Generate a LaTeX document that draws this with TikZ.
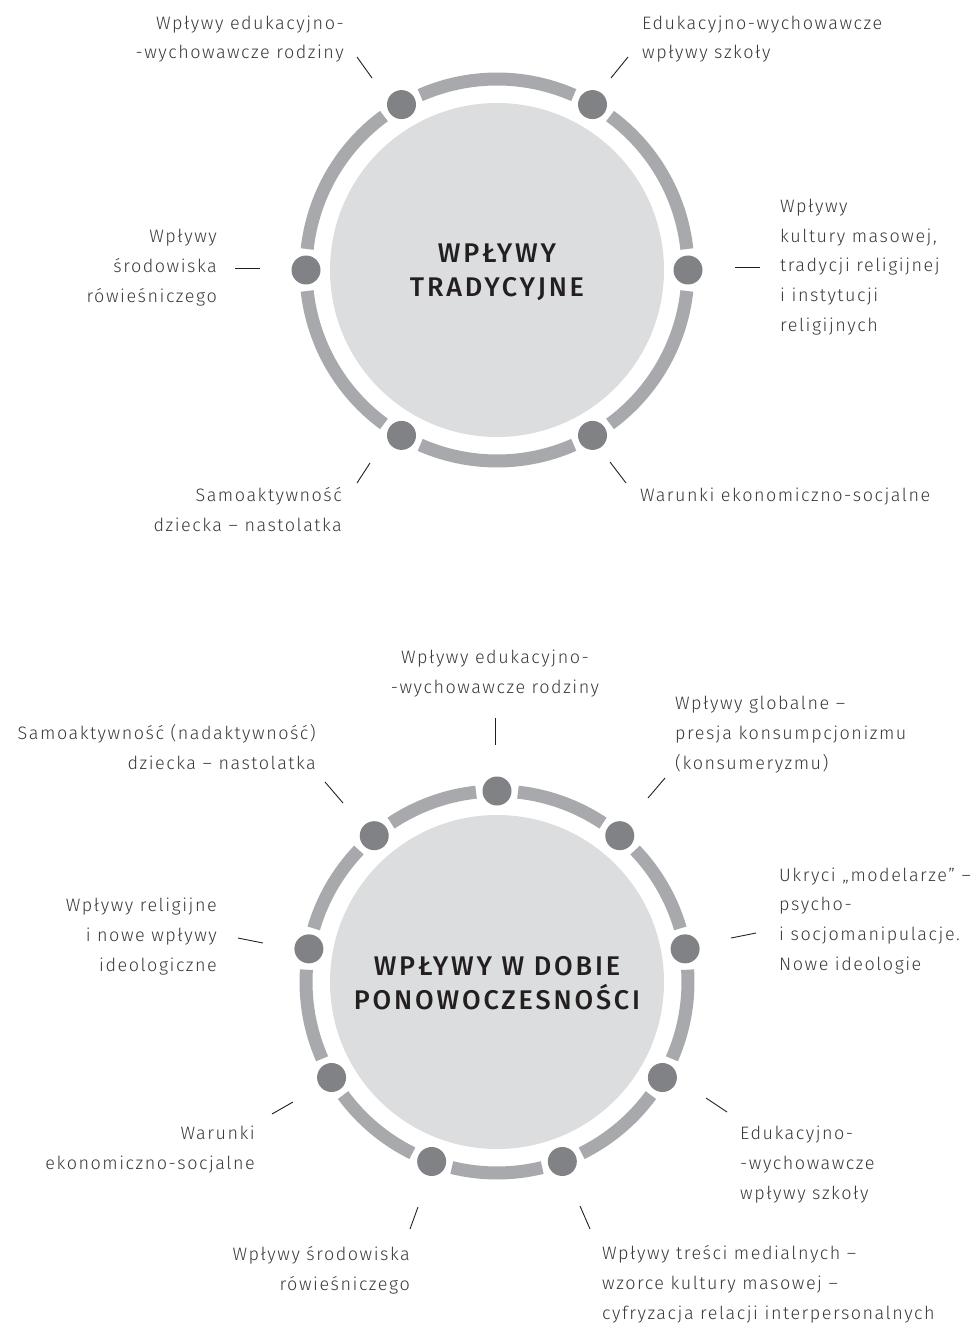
\documentclass[tikz,border=0pt]{standalone}
\usepackage{fontspec}
\usetikzlibrary{calc}
\newfontfamily\labfont{Fira Sans Light}[LetterSpace=8.5]
\newfontfamily\headfont{Fira Sans Medium}[LetterSpace=10.5]
\definecolor{ringc}{HTML}{A7A9AC}
\definecolor{dotc}{HTML}{808285}
\definecolor{discc}{HTML}{DCDDDE}
\definecolor{txtc}{HTML}{3A3A3C}
\definecolor{headc}{HTML}{231F20}
\tikzset{
  disc/.style={circle, fill=discc, minimum size=334pt, inner sep=0pt},
  headtext/.style={inner sep=0pt, font=\headfont\fontsize{27}{34.5}\selectfont, text=headc, align=center},
  ringarc/.style={draw=ringc, line width=13pt, line cap=butt},
  dotnode/.style={circle, fill=dotc, inner sep=0pt, minimum size=29pt},
  lab/.style={inner sep=0pt, font=\labfont\fontsize{18}{29.6}\selectfont, text=txtc},
  labr/.style={lab, align=right, anchor=base east},
  labl/.style={lab, align=left, anchor=base west},
  labc/.style={lab, align=center, anchor=base},
  tick/.style={draw=headc, line width=0.9pt}
}
\begin{document}
\begin{tikzpicture}[x=1pt,y=-1pt]
\useasboundingbox (0,0) rectangle (975,1324);
% ---------- top diagram ----------
\node[disc] (T) at (497,270) {};
\node[headtext] (Tt) at (497,272.5) {WPŁYWY\\TRADYCYJNE};
\foreach \b in {0,60,...,300}{
  \draw[ringarc] ($(T.center)+({\b+6.3}:191)$) arc[start angle={\b+6.3}, end angle={\b+60-6.3}, radius=191];
}
\foreach \b/\n in {0/tR,60/tBR,120/tBL,180/tL,240/tTL,300/tTR}{
  \node[dotnode] (\n) at ($(T.center)+(\b:191)$) {};
}
% labels: anchor = baseline of the last line
\node[labr] (lTL) at (344,59) {Wpływy edukacyjno-\\-wychowawcze rodziny};
\node[labl] (lTR) at (642,59) {Edukacyjno-wychowawcze\\wpływy szkoły};
\node[labl] (lR) at (780,331) {Wpływy\\kultury masowej,\\tradycji religijnej\\i instytucji\\religijnych};
\node[labr] (lL) at (217,302) {Wpływy\\środowiska\\rówieśniczego};
\node[labr] (lBL) at (342,531) {Samoaktywność\\dziecka – nastolatka};
\node[labl] (lBR) at (640,501.5) {Warunki ekonomiczno-socjalne};
\coordinate (a1) at (357,57); \coordinate (a2) at (372,78);
\coordinate (b1) at (628,57); \coordinate (b2) at (611,78);
\coordinate (c1) at (760,267); \coordinate (c2) at (735,267);
\coordinate (d1) at (235,268); \coordinate (d2) at (260,268);
\coordinate (e1) at (357,483); \coordinate (e2) at (370,463);
\coordinate (f1) at (626,483); \coordinate (f2) at (610,462);
\draw[tick] (a1) -- (a2);
\draw[tick] (b1) -- (b2);
\draw[tick] (c1) -- (c2);
\draw[tick] (d1) -- (d2);
\draw[tick] (e1) -- (e2);
\draw[tick] (f1) -- (f2);
% ---------- bottom diagram ----------
\node[disc] (B) at (497,982) {};
\node[headtext] (Bt) at (497,983) {WPŁYWY W DOBIE\\PONOWOCZESNOŚCI};
\foreach \b in {270,310,...,590}{
  \draw[ringarc] ($(B.center)+({\b+6.3}:191)$) arc[start angle={\b+6.3}, end angle={\b+40-6.3}, radius=191];
}
\foreach \b/\n in {270/bT,310/bTR,350/bR,30/bRL,70/bBR,110/bBL,150/bLL,190/bL,230/bTL}{
  \node[dotnode] (\n) at ($(B.center)+(\b:191)$) {};
}
\node[labc] (mT) at (495,693) {Wpływy edukacyjno-\\-wychowawcze rodziny};
\node[labl] (mTR) at (675,769) {Wpływy globalne –\\presja konsumpcjonizmu\\(konsumeryzmu)};
\node[labl] (mR) at (779,970) {Ukryci „modelarze” –\\psycho-\\i socjomanipulacje.\\Nowe ideologie};
\node[labl] (mRL) at (740,1199) {Edukacyjno-\\-wychowawcze\\wpływy szkoły};
\node[labl] (mBR) at (602,1319) {Wpływy treści medialnych –\\wzorce kultury masowej –\\cyfryzacja relacji interpersonalnych};
\node[labr] (mBL) at (410,1290) {Wpływy środowiska\\rówieśniczego};
\node[labr] (mLL) at (255,1169) {Warunki\\ekonomiczno-socjalne};
\node[labr] (mL) at (217,971) {Wpływy religijne\\i nowe wpływy\\ideologiczne};
\node[labr] (mTL) at (316,769) {Samoaktywność (nadaktywność)\\dziecka – nastolatka};
\coordinate (g1) at (495,718); \coordinate (g2) at (495,745);
\coordinate (h1) at (665,778); \coordinate (h2) at (648,798);
\coordinate (i1) at (756,933); \coordinate (i2) at (731,938);
\coordinate (j1) at (706,1098); \coordinate (j2) at (727,1112);
\coordinate (k1) at (580,1206); \coordinate (k2) at (590,1229);
\coordinate (l1) at (418,1207); \coordinate (l2) at (410,1229);
\coordinate (m1) at (272,1114); \coordinate (m2) at (293,1102);
\coordinate (n1) at (238,938); \coordinate (n2) at (263,943);
\coordinate (o1) at (325,782); \coordinate (o2) at (343,803);
\draw[tick] (g1) -- (g2);
\draw[tick] (h1) -- (h2);
\draw[tick] (i1) -- (i2);
\draw[tick] (j1) -- (j2);
\draw[tick] (k1) -- (k2);
\draw[tick] (l1) -- (l2);
\draw[tick] (m1) -- (m2);
\draw[tick] (n1) -- (n2);
\draw[tick] (o1) -- (o2);
\end{tikzpicture}
\end{document}
